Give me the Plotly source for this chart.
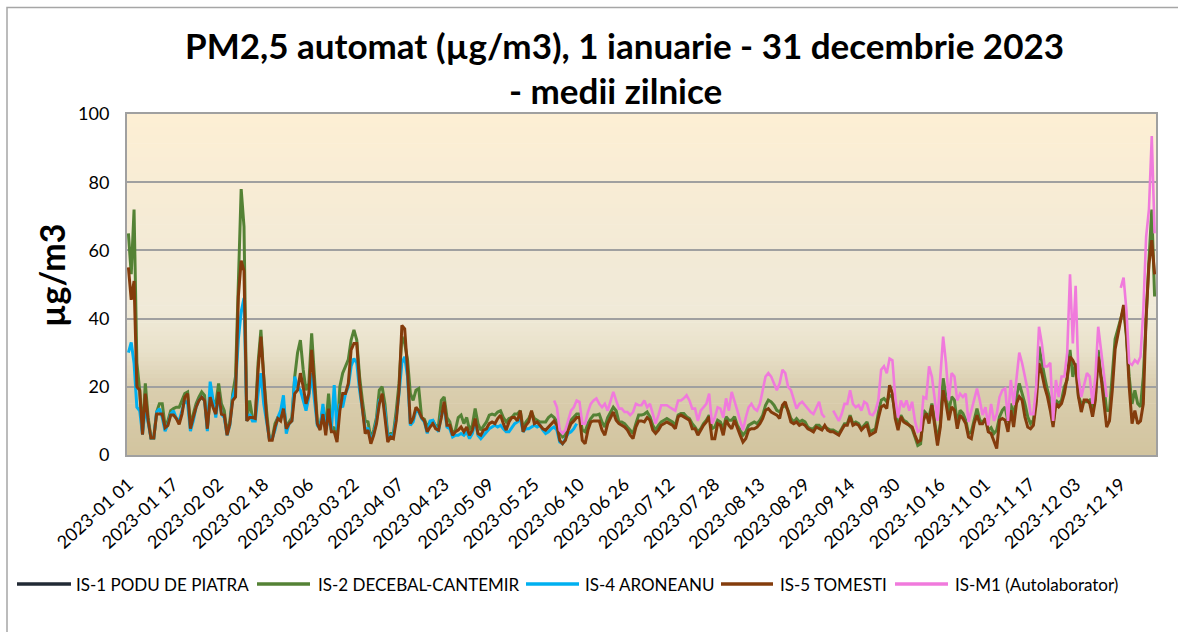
import plotly.graph_objects as go
import pandas as pd

W, H = 1178, 632
L_M, R_M, T_M, B_M = 127, 22, 114, 177

# ---------------- data ----------------
dates = pd.date_range("2023-01-01", "2023-12-31", freq="D").strftime("%Y-%m %d").tolist()

tick_labels = ["2023-01 01", "2023-01 17", "2023-02 02", "2023-02 18", "2023-03 06",
               "2023-03 22", "2023-04 07", "2023-04 23", "2023-05 09", "2023-05 25",
               "2023-06 10", "2023-06 26", "2023-07 12", "2023-07 28", "2023-08 13",
               "2023-08 29", "2023-09 14", "2023-09 30", "2023-10 16", "2023-11 01",
               "2023-11 17", "2023-12 03", "2023-12 19"]

N = None

is1_podu = [N] * 365

is2_decebal = [
    65, 53, 72, 27, 19, 7, 21, 11, 5, 5,
    12.6, 15, 15, 8.7, 10, 13, 13.6, 14, 14, 16,
    18, 18.5, 9, 12, 15, 17, 18.5, 17.5, 7.7, 17,
    16, 15, 21, 15, 13, 6.3, 10, 18, 23, 54,
    78, 67, 10, 16, 11, 11, 27, 36.7, 23, 13,
    4.8, 4.8, 9.2, 11, 11, 15, 8.2, 9.7, 11, 23,
    30, 33.7, 25, 19, 21, 35.7, 21, 10, 8.2, 14,
    8.2, 18, 7.3, 8.2, 4.8, 20, 24, 26, 28, 33.7,
    36.7, 33.7, 23, 16, 10, 9.7, 4.8, 7.3, 11, 19,
    20, 15, 5.8, 6.3, 6.3, 13, 21, 34.7, 32.7, 28,
    18, 16, 19, 19.5, 11, 10.5, 8.2, 9.7, 10, 8.5,
    8.7, 16, 17, 11, 9.7, 6.3, 7.3, 11, 11.7, 9.2,
    11, 7.3, 8.7, 13.6, 9.2, 7.3, 8.7, 9.7, 11.7, 12,
    11.7, 12.6, 13, 11, 9.7, 10.7, 11, 12, 12, 13,
    7.7, 9.7, 10.7, 12.6, 10.7, 10.2, 9.7, 9.7, 9.7, 11,
    11.7, 11, 9.7, 6.8, 5.3, 5.8, 8.7, 10.2, 11, 12,
    12, 7.3, 6.8, 9.2, 10.7, 11.7, 11.7, 12, 9.7, 8.2,
    11, 12.6, 14, 13, 9.7, 9.7, 9.2, 8.2, 7.3, 6.3,
    9.2, 11.7, 11.7, 12, 12.6, 11.2, 8.7, 7.3, 8.7, 9.7,
    10.2, 10.7, 10.2, 9.7, 8.7, 11.7, 12.2, 12.2, 11.2, 10.7,
    9.2, 8.2, 6.8, 7.7, 9.2, 10.2, 11.7, 7.7, 8.2, 10.2,
    9.7, 7.7, 11.2, 10.2, 10.2, 11.2, 8.7, 7.3, 5.8, 6.8,
    8.7, 9.2, 9.7, 9.2, 10.2, 11.7, 14.6, 16.1, 15.6, 14.6,
    13.1, 12.6, 14.1, 14.6, 13.1, 10.7, 9.7, 10.7, 9.7, 10.2,
    9.7, 8.2, 7.7, 7.7, 8.7, 8.7, 7.7, 8.2, 7.7, 7.3,
    7.3, 6.8, 6.3, 7.7, 9.2, 9.2, 11.7, 9.2, 9.7, 9.2,
    7.7, 8.7, 9.7, 6.8, 7.3, 7.7, 12.2, 16.1, 16.6, 15.6,
    17.5, 17.1, 12.2, 8.2, 11.7, 10.2, 9.7, 8.7, 7.7, 5.3,
    2.8, 3.3, 13.1, 12.2, 11.2, 15.1, 9.7, 4.3, 9.2, 22.5,
    17.1, 12.6, 17.1, 16.1, 9.2, 13.1, 12.2, 10.2, 6.3, 6.8,
    10.2, 13.6, 10.2, 9.7, 10.7, 7.3, 8.0, 6.3, 7.3, 11.2,
    13.1, 14.1, 9.7, 15.1, 11.2, 17.1, 21, 18, 15.1, 11.2,
    9.2, 10.2, 17.1, 31.8, 26.9, 22.9, 19, 16.1, 9.2, 16.1,
    15.1, 16.1, 20, 22, 30.8, 22.9, 26.9, 17.1, 15.1, 15.6,
    15.6, 16.1, 13.6, 17.1, 30.8, 22.9, 20, 13.1, 13, 25,
    34, 37, 40, 43, 34.7, 22.9, 15, 19, 15.1, 14.1,
    23, 42.5, 57, 72, 46.5]

is4_aroneanu = [
    30, 33, 27, 14, 13, 6, 14, 10, 5, 5,
    12.6, 13.6, 11, 7, 9, 12, 13, 10.7, 10, 13,
    16, 15, 7, 10, 14, 16, 17, 16, 7, 21.5,
    16, 11, 18, 12, 11, 5.8, 8.7, 17, 20, 34,
    42, 46, 10, 12, 10, 10, 18, 24, 15, 10,
    4.8, 4.8, 7.3, 11, 13, 17.5, 6.3, 9.2, 10, 23,
    20, 19, 16, 13, 17, 24, 16, 8.7, 7.7, 15,
    7.3, 11, 7.3, 20.5, 7.3, 15, 14, 18, 20, 26,
    28.3, 27, 19, 13, 7.7, 7.7, 4.3, 6.3, 10, 16,
    17, 13, 5.3, 5.8, 5.8, 11, 18, 27, 28.8, 23,
    8.7, 9.7, 13, 12.6, 10.7, 9.7, 6.3, 10, 10.2, 8.2,
    6.8, 11.7, 14, 8.2, 7.7, 5.3, 5.8, 5.8, 6.3, 5.8,
    6.8, 4.8, 6.3, 10.2, 5.8, 4.8, 5.8, 6.8, 7.7, 8.2,
    8.7, 8.2, 8.7, 7.7, 6.8, 6.8, 8.2, 9.2, 9.7, 10.7,
    6.8, 7.7, 7.7, 8.2, 8.7, 8.2, 8.7, 7.3, 6.3, 6.8,
    7.7, 8.2, 7.3, 3.8, 3.3, 4.8, 6.3, 6.8, 7.7, 9.2] + [N] * 205

is5_tomesti = [
    55, 45.5, 51, 20, 19, 6, 18, 10, 5, 5,
    12, 12, 12, 8, 8.7, 11.7, 11.7, 10.7, 9, 12,
    17, 18, 7.7, 11, 14, 16, 17, 16, 7.7, 17,
    14, 12, 18.5, 12, 11.7, 5.8, 9.2, 16, 17, 46.5,
    57, 54, 10, 11, 11, 10.7, 25, 34.7, 24, 11,
    4.3, 4.3, 8.2, 10.7, 10, 13.6, 7.7, 9.2, 10, 18,
    19, 24, 20, 15, 18, 30.8, 20, 9.2, 7.3, 12,
    5.8, 13.6, 6.8, 6.8, 3.8, 13, 18, 18, 21, 30.8,
    32.7, 32.7, 21, 14, 6.3, 7.3, 3.3, 5.8, 9.2, 15,
    18, 11, 3.8, 5.3, 4.8, 10, 19, 38, 37, 25,
    9.2, 10.7, 14, 13, 11, 10, 6.8, 8.2, 9.2, 7.7,
    7.3, 11, 15.6, 8.7, 8.7, 5.8, 6.8, 7.3, 8.2, 6.8,
    8.2, 5.8, 7.3, 10.7, 6.3, 5.8, 7.3, 7.7, 9.2, 9.7,
    9.2, 10.7, 11.7, 9.2, 7.3, 9.7, 11, 11, 10, 13,
    6.8, 8.7, 9.7, 13, 9.2, 9.7, 8.7, 7.7, 7.3, 8.2,
    9.2, 10, 8.7, 4.3, 3.3, 4.3, 7.3, 9.2, 10, 11,
    11, 4.3, 3.3, 7.3, 9.7, 10, 10, 10, 7.3, 5.8,
    9.2, 11, 12.6, 10.2, 9.2, 8.7, 8.2, 7.3, 5.8, 4.8,
    8.2, 10, 10, 9.7, 11, 10.2, 7.3, 6.3, 7.3, 8.7,
    9.2, 9.7, 9.2, 8.7, 7.7, 11.2, 11.7, 11.2, 10.7, 10.2,
    7.7, 7.7, 5.8, 7.3, 8.7, 9.7, 11.2, 4.8, 4.8, 9.2,
    8.7, 5.8, 10.2, 8.7, 7.7, 10.2, 7.7, 5.8, 3.8, 4.8,
    7.3, 7.7, 7.7, 8.2, 9.2, 10.7, 13.1, 13.6, 12.6, 12.2,
    11.7, 10.7, 14.6, 15.6, 12.2, 9.7, 9.2, 9.7, 8.7, 9.2,
    8.7, 7.7, 7.3, 6.8, 8.2, 7.7, 7.3, 8.7, 7.3, 6.8,
    6.8, 6.3, 5.8, 7.3, 8.7, 8.7, 11.2, 8.7, 9.2, 8.7,
    7.3, 8.2, 8.7, 5.8, 6.3, 6.8, 10.7, 14.1, 14.6, 13.6,
    20.5, 18, 10.7, 7.3, 11.2, 9.7, 9.2, 8.7, 8.2, 5.8,
    3.8, 4.3, 10.2, 12.2, 9.2, 14.6, 8.2, 2.8, 8.2, 19,
    15.1, 10.2, 14.1, 13.1, 7.7, 11.7, 10.7, 9.2, 5.3, 4.8,
    9.2, 11.7, 9.2, 9.2, 10.7, 6.8, 6.3, 4.3, 1.9, 10.2,
    10.7, 10.2, 6.8, 13.1, 8.2, 15.1, 17.1, 16.1, 11.2, 8.2,
    7.7, 8.7, 15.1, 26.9, 23.9, 20, 17.1, 13.1, 8.2, 15.1,
    14.1, 15.1, 18, 22.9, 28.8, 27.8, 25.9, 17.1, 12.6, 16.1,
    16.1, 15.1, 11.2, 16.1, 28.8, 22.9, 16.1, 8.2, 10, 19,
    31, 35, 40, 44, 35.7, 20, 9.2, 13, 9.2, 10,
    15, 40.6, 56, 63, 53]

ism1_autolab = [N] * 151 + [
    16, 14, 7.3, 6.3, 7.3, 10, 13, 14, 16,
    15.6, 9.2, 9.2, 12.6, 15, 16, 16.6, 15, 14, 15,
    13, 16, 18.5, 16, 13.6, 13.6, 12.6, 12.6, 11.7, 12.6,
    15, 14.6, 14.6, 16, 14, 15, 11.7, 9.2, 11.7, 14.6,
    14.6, 14.6, 14, 13.6, 13, 16, 16, 16.6, 17.5, 16,
    13.6, 13.6, 10, 13, 14, 15, 18, 9.2, 11, 14,
    13.6, 11, 16.6, 13, 18.5, 16, 13, 10, 7.3, 11,
    14, 15, 13.6, 13, 15, 19, 23, 24, 23, 21,
    19, 21, 25, 24, 20, 19, 16, 13.6, 15, 15.6,
    14.6, 13.6, 12.6, 12, 13.6, 15.6, 12, 11, N, N,
    13, 11.7, 10, 12, 15, 15, 19, 15, 14, 14.6,
    13, 15.6, 15, 12, 11.7, 13, 16, 25, 26, 24,
    28.3, 27.8, 17, 11, 16, 14, 16, 13, 15.6, 10,
    6.8, 7.3, 17, 16.6, 26, 23, 16, 10, 23, 34.7,
    27, 16, 24, 23, 16, 18, 17, 18, 9.7, 13,
    16, 19.5, 16, 11.7, 14, 8.7, 15, 10, 12, 17,
    19, 19.5, 10, 22, 14.6, 23, 30, 27, 23, 19,
    12, 12, 20, 37.6, 32.7, 26, 26, 27, 10, 22,
    17, 23, 23, 30, 53, 32.7, 49.6, 23, 17, 21,
    24, 23, 15, 23, 37.6, 30.8, 23, 17, N, N,
    N, N, 49, 52, 42.5, 27, 26.4, 27.8, 27, 28.8,
    42.5, 64, 72, 93.5, 65]

series_names = ["IS-1 PODU DE PIATRA", "IS-2 DECEBAL-CANTEMIR", "IS-4 ARONEANU",
                "IS-5 TOMESTI", "IS-M1 (Autolaborator)"]
series_values = [is1_podu, is2_decebal, is4_aroneanu, is5_tomesti, ism1_autolab]
series_colors = ["#222A35", "#548235", "#00B0F0", "#843C0C", "#F07ADC"]
series_widths = [3, 3, 3, 3, 2.6]

# ---------------- figure ----------------
FONT = "Lato, Calibri, Carlito, sans-serif"
fig = go.Figure()
for name, vals, col, wd in zip(series_names, series_values, series_colors, series_widths):
    fig.add_trace(go.Scatter(x=dates, y=vals, name=name, mode="lines",
                             line=dict(color=col, width=wd), connectgaps=False,
                             showlegend=False))

pw = W - L_M - R_M
ph = H - T_M - B_M
def px_x(x):
    return (x - L_M) / pw
def px_y(y):
    return (H - B_M - y) / ph

shapes = []
# gradient background in plot area
stops = [(0.0, (210, 196, 158)), (0.2, (218, 206, 175)), (0.3, (232, 224, 201)),
         (0.42, (240, 234, 216)), (0.6, (243, 234, 214)), (1.0, (253, 239, 212))]
def col_at(t):
    for (a, ca), (b, cb) in zip(stops[:-1], stops[1:]):
        if a <= t <= b:
            f = (t - a) / (b - a) if b > a else 0
            return tuple(round(ca[i] + (cb[i] - ca[i]) * f) for i in range(3))
    return stops[-1][1]
NS = 80
for i in range(NS):
    t0, t1 = i / NS, (i + 1) / NS
    c = col_at((t0 + t1) / 2)
    shapes.append(dict(type="rect", xref="paper", yref="paper", x0=0, x1=1,
                       y0=t0, y1=t1 + 0.002, layer="below", line=dict(width=0),
                       fillcolor="rgb(%d,%d,%d)" % c))

# outer chart border
shapes.append(dict(type="rect", xref="paper", yref="paper",
                   x0=px_x(7), x1=px_x(1185), y0=px_y(645), y1=px_y(7.5),
                   line=dict(color="#A6A6A6", width=1.5), layer="above"))

# manual legend
legend_items = [(17, 71, 74), (257, 310, 316), (526, 579, 583), (721, 773, 778), (895, 948, 953)]
annotations = []
LEG_Y = 584
for (x0, x1, xt), name, col in zip(legend_items, series_names, series_colors):
    shapes.append(dict(type="line", xref="paper", yref="paper",
                       x0=px_x(x0), x1=px_x(x1), y0=px_y(LEG_Y), y1=px_y(LEG_Y),
                       line=dict(color=col, width=3.5)))
    annotations.append(dict(text=name, xref="paper", yref="paper", x=px_x(xt), y=px_y(LEG_Y),
                            xanchor="left", yanchor="middle", showarrow=False,
                            font=dict(family=FONT, size=17, color="#000000")))

# title
annotations.append(dict(text="<b>PM2,5 automat (µg/m3), 1 ianuarie - 31 decembrie 2023</b>",
                        xref="paper", yref="paper", x=px_x(624), y=px_y(45),
                        xanchor="center", yanchor="middle", showarrow=False,
                        font=dict(family=FONT, size=35, color="#000000")))
annotations.append(dict(text="<b>- medii zilnice</b>",
                        xref="paper", yref="paper", x=px_x(615), y=px_y(90),
                        xanchor="center", yanchor="middle", showarrow=False,
                        font=dict(family=FONT, size=35, color="#000000")))
# y-axis title
annotations.append(dict(text="<b>µg/m3</b>", xref="paper", yref="paper",
                        x=px_x(51), y=px_y(276), xanchor="center", yanchor="middle",
                        textangle=-90, showarrow=False,
                        font=dict(family=FONT, size=34, color="#000000")))

fig.update_layout(
    width=W, height=H,
    margin=dict(l=L_M, r=R_M, t=T_M, b=B_M, autoexpand=False),
    paper_bgcolor="white", plot_bgcolor="rgba(0,0,0,0)",
    showlegend=False,
    shapes=shapes, annotations=annotations,
    font=dict(family=FONT, color="#000000"),
)
fig.update_xaxes(type="category", range=[-0.5, 364.5], tickmode="array",
                 tickvals=tick_labels, ticktext=tick_labels, tickangle=-42,
                 tickfont=dict(family=FONT, size=18, color="#000000"),
                 showgrid=False, showline=True, linecolor="#A0A0A0", linewidth=2,
                 mirror=True, ticks="", ticklabelstandoff=10, automargin=False)
fig.update_yaxes(range=[0, 100], dtick=20, showgrid=True, gridcolor="#A0A0A0",
                 gridwidth=2, zeroline=False, showline=True, linecolor="#A0A0A0",
                 linewidth=2, mirror=True,
                 tickfont=dict(family=FONT, size=18, color="#000000"),
                 ticks="outside", ticklen=12, tickcolor="rgba(0,0,0,0)", automargin=False)

fig.write_html("out.html", config={"displayModeBar": False},
               post_script="document.body.style.margin='0px';")
